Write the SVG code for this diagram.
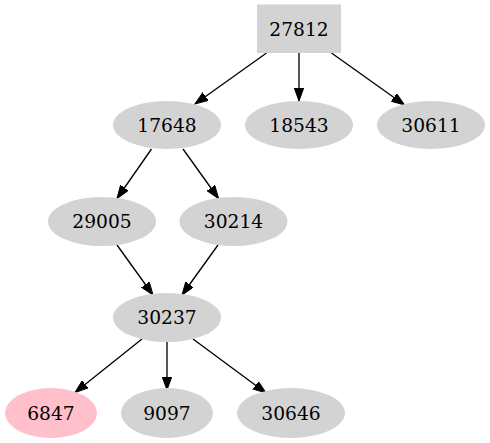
<svg xmlns="http://www.w3.org/2000/svg" width="490" height="443" viewBox="0 0 490 443">
<style>
.n{fill:#d3d3d3;stroke:none}
.p{fill:#ffc0cb;stroke:none}
text{font-family:"DejaVu Serif",serif;font-size:18.67px;text-anchor:middle;fill:#000}
.e{stroke:#000;stroke-width:1.33;fill:none;marker-end:url(#a)}
</style>
<defs>
<marker id="a" markerUnits="userSpaceOnUse" markerWidth="14" markerHeight="10" refX="13" refY="4.7" orient="auto">
<path d="M0,0 L13,4.7 L0,9.4 z" fill="#000" stroke="#000" stroke-width="1"/>
</marker>
</defs>
<rect width="490" height="443" fill="#fff"/>
<g id="edges">
<line class="e" x1="266.5" y1="53" x2="195" y2="104"/>
<line class="e" x1="299" y1="53" x2="299" y2="101"/>
<line class="e" x1="331.5" y1="53" x2="404.5" y2="105"/>
<line class="e" x1="151.5" y1="149" x2="117" y2="198.5"/>
<line class="e" x1="183" y1="149" x2="218.5" y2="198.5"/>
<line class="e" x1="117" y1="245" x2="153" y2="295"/>
<line class="e" x1="218" y1="245" x2="182" y2="295"/>
<line class="e" x1="142" y1="339" x2="75" y2="392.5"/>
<line class="e" x1="167" y1="342" x2="167" y2="390"/>
<line class="e" x1="193" y1="339" x2="266" y2="393"/>
</g>
<g id="n27812"><rect class="n" x="257" y="4.5" width="84" height="48.5"/><text x="299" y="35.5">27812</text></g>
<g id="n17648"><ellipse class="n" cx="167" cy="125" rx="54" ry="24"/><text x="167" y="131.5">17648</text></g>
<g id="n18543"><ellipse class="n" cx="299" cy="125" rx="54" ry="24"/><text x="299" y="131.5">18543</text></g>
<g id="n30611"><ellipse class="n" cx="431" cy="125" rx="54" ry="24"/><text x="431" y="131.5">30611</text></g>
<g id="n29005"><ellipse class="n" cx="102" cy="221.5" rx="54" ry="24.5"/><text x="102" y="228">29005</text></g>
<g id="n30214"><ellipse class="n" cx="233.5" cy="221.5" rx="54" ry="24.5"/><text x="233.5" y="228">30214</text></g>
<g id="n30237"><ellipse class="n" cx="167" cy="317.5" rx="54" ry="24.5"/><text x="167" y="324">30237</text></g>
<g id="n6847"><ellipse class="p" cx="51" cy="413" rx="46" ry="25"/><text x="51" y="419.5">6847</text></g>
<g id="n9097"><ellipse class="n" cx="167" cy="413" rx="46" ry="25"/><text x="167" y="419.5">9097</text></g>
<g id="n30646"><ellipse class="n" cx="291" cy="413" rx="54" ry="25"/><text x="291" y="419.5">30646</text></g>
</svg>
